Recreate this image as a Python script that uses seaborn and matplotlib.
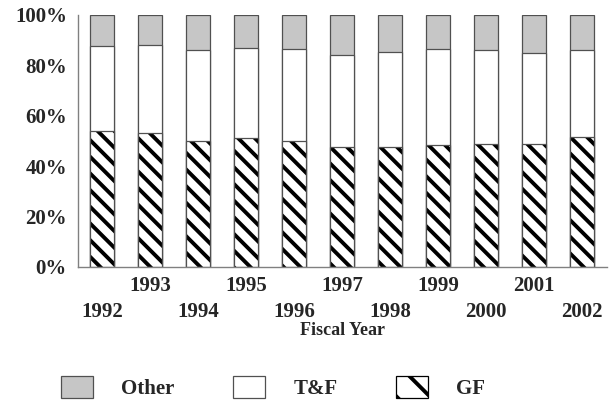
import matplotlib
matplotlib.use('Agg')
import matplotlib.pyplot as plt
import matplotlib.colors as mcolors
from matplotlib.patches import Patch
import seaborn as sns
import pandas as pd

years = ['1992', '1993', '1994', '1995', '1996', '1997', '1998', '1999', '2000', '2001', '2002']
gf = [54.0, 53.0, 50.1, 51.1, 49.9, 47.5, 47.6, 48.4, 48.8, 48.8, 51.6]
tf = [33.7, 35.2, 36.0, 35.9, 36.6, 36.6, 37.6, 38.0, 37.3, 36.0, 34.5]
other = [12.3, 11.8, 13.9, 13.0, 13.5, 15.9, 14.8, 13.6, 13.9, 15.2, 13.9]
y_ticks = [0, 20, 40, 60, 80, 100]
y_labels = ['0%', '20%', '40%', '60%', '80%', '100%']

sns.set_style('white')
plt.rcParams['font.family'] = ['Liberation Serif', 'DejaVu Serif']
plt.rcParams['font.weight'] = 'bold'
plt.rcParams['hatch.linewidth'] = 2.8

df = pd.DataFrame({'year': years, 'GF': gf, 'TF': tf, 'Other': other})
df['gf_tf'] = df['GF'] + df['TF']
df['total'] = df['gf_tf'] + df['Other']

fig = plt.figure(figsize=(6.15, 4.05), dpi=100)
ax = fig.add_axes([0.127, 0.341, 0.860, 0.622])

edge = '#505050'
other_color = '#c6c6c6'
gf_hatch = '\\\\'

sns.barplot(data=df, x='year', y='total', color=other_color, width=0.5,
            edgecolor=edge, linewidth=0.9, ax=ax, saturation=1)
sns.barplot(data=df, x='year', y='gf_tf', color='white', width=0.5,
            edgecolor=edge, linewidth=0.9, ax=ax, saturation=1)
n_before = len(ax.patches)
sns.barplot(data=df, x='year', y='GF', color='white', width=0.5,
            edgecolor='black', linewidth=0.9, hatch=gf_hatch, ax=ax, saturation=1)
for p in ax.patches[n_before:]:
    p.set_edgecolor(edge)
    p._hatch_color = mcolors.to_rgba('black')

ax.set_xlim(-0.5, 10.52)
ax.set_ylim(0, 100)
ax.set_yticks(y_ticks)
ax.set_yticklabels(y_labels, fontsize=15, fontweight='bold')
ax.set_xticks(range(len(years)))
ax.set_xticklabels([('\n' + y) if i % 2 == 0 else y for i, y in enumerate(years)],
                   fontsize=15, fontweight='bold', linespacing=1.4)
ax.tick_params(axis='both', length=0)
ax.tick_params(axis='x', pad=6.5)
ax.tick_params(axis='y', pad=8)
ax.set_xlabel('Fiscal Year', fontsize=13, fontweight='bold', labelpad=0)
ax.set_ylabel('')

for s in ['top', 'right']:
    ax.spines[s].set_visible(False)
for s in ['left', 'bottom']:
    ax.spines[s].set_color('#808080')
    ax.spines[s].set_linewidth(1.0)

gf_handle = Patch(facecolor='white', edgecolor='black', linewidth=0.9, hatch='\\', label='GF')
handles = [
    Patch(facecolor=other_color, edgecolor=edge, linewidth=0.9, label='Other'),
    Patch(facecolor='white', edgecolor=edge, linewidth=0.9, label='T&F'),
    gf_handle,
]
fig.legend(handles=handles, loc='center', bbox_to_anchor=(0.444, 0.043), ncol=3,
           frameon=False, prop={'size': 15, 'weight': 'bold'},
           handlelength=1.54, handleheight=1.2, handletextpad=1.35, columnspacing=2.8)

fig.savefig('out.png', dpi=100)
